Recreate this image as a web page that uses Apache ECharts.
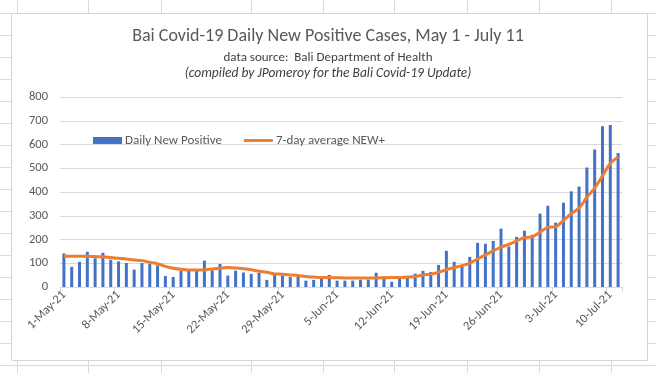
<!DOCTYPE html>
<html>
<head>
<meta charset="utf-8">
<script src="https://cdn.jsdelivr.net/npm/echarts@6/dist/echarts.min.js"></script>
<style>
html,body{margin:0;padding:0;background:#fff;}
#main{width:656px;height:373px;}
</style>
</head>
<body>
<div id="main"></div>
<script>
// ---- data ----
var startDate = '2021-05-01';
var dayCount = 72; // 1-May-21 .. 11-Jul-21
var dailyNewPositive = [
  141, 85, 106, 148, 121, 144, 115,
  108, 101, 73, 101, 97, 91, 46,
  42, 70, 69, 68, 111, 70, 97,
  48, 69, 61, 55, 59, 30, 55,
  48, 42, 45, 27, 30, 42, 51,
  27, 27, 27, 31, 31, 60, 45,
  22, 38, 38, 56, 68, 63, 93,
  152, 106, 90, 127, 186, 182, 194,
  246, 170, 211, 237, 220, 309, 342,
  271, 355, 403, 423, 503, 579, 677,
  682, 564
];
var sevenDayAverage = [
  129, 129, 129, 129, 128, 127, 124,
  121, 118, 114, 111, 104, 98, 87,
  79, 75, 72, 72, 72, 76, 79,
  82, 80, 77, 73, 66, 62, 55,
  54, 51, 48, 44, 42, 40, 40,
  39, 38, 38, 38, 38, 38, 39,
  40, 40, 42, 44, 51, 54, 62,
  73, 82, 90, 101, 118, 135, 152,
  168, 179, 194, 208, 211, 231, 251,
  254, 280, 309, 332, 378, 416, 468,
  520, 548
];
var yTicks = [0, 100, 200, 300, 400, 500, 600, 700, 800];
var titleText = 'Bai Covid-19 Daily New Positive Cases, May 1 - July 11';
var subText1 = 'data source:  Bali Department of Health';
var subText2 = '(compiled by JPomeroy for the Bali Covid-19 Update)';
var seriesNames = ['Daily New Positive', '7-day average NEW+'];

// category labels like "1-May-21"
var monthNames = ['Jan','Feb','Mar','Apr','May','Jun','Jul','Aug','Sep','Oct','Nov','Dec'];
var categories = [];
(function(){
  var d = new Date(startDate + 'T00:00:00Z');
  for (var i = 0; i < dayCount; i++) {
    var c = new Date(d.getTime() + i * 86400000);
    categories.push(c.getUTCDate() + '-' + monthNames[c.getUTCMonth()] + '-' + String(c.getUTCFullYear()).slice(2));
  }
})();

// ---- spreadsheet backdrop ----
var sheetCols = [17, 88, 161, 251, 323, 394, 467, 539, 611];
var sheetRows = [13, 35, 57, 79, 101, 123, 145, 167, 189, 211, 233, 255, 277, 299, 321, 343, 365];
var gfx = [];
sheetCols.forEach(function(x){
  gfx.push({type:'line', z:-20, silent:true, shape:{x1:x+0.5,y1:0,x2:x+0.5,y2:373}, style:{stroke:'#dadada', lineWidth:1}});
});
sheetRows.forEach(function(y){
  gfx.push({type:'line', z:-20, silent:true, shape:{x1:0,y1:y+0.5,x2:656,y2:y+0.5}, style:{stroke:'#dadada', lineWidth:1}});
});
gfx.push({type:'rect', z:-10, silent:true, shape:{x:11.5, y:13.5, width:636, height:347}, style:{fill:'#ffffff', stroke:'#d4d4d4', lineWidth:1}});

var font = 'Calibri, Carlito, Lato, sans-serif';
var grey = '#595959';

var chart = echarts.init(document.getElementById('main'), null, {renderer:'canvas'});
chart.setOption({
  animation: false,
  backgroundColor: '#ffffff',
  graphic: {elements: gfx},
  title: [
    {text: titleText, left: 'center', top: 27, padding: 0,
     textStyle: {fontFamily: font, fontSize: 18, fontWeight: 'normal', color: grey}},
    {text: subText1, left: 'center', top: 51, padding: 0,
     textStyle: {fontFamily: font, fontSize: 13, fontWeight: 'normal', color: '#404040'}},
    {text: subText2, left: 'center', top: 67, padding: 0,
     textStyle: {fontFamily: font, fontSize: 13.5, fontWeight: 'normal', fontStyle: 'italic', color: '#404040'}}
  ],
  legend: {
    left: 93, top: 134, padding: 0,
    itemWidth: 29, itemHeight: 7, itemGap: 22,
    textStyle: {fontFamily: font, fontSize: 13, color: grey, padding: [0,0,0,-2]},
    data: [
      {name: seriesNames[0], icon: 'rect'},
      {name: seriesNames[1], icon: 'path://M0,0 H30 V3 H0 Z'}
    ]
  },
  grid: {left: 60, right: 34, top: 97, bottom: 86, containLabel: false},
  xAxis: {
    type: 'category',
    data: categories,
    boundaryGap: true,
    axisLine: {lineStyle: {color: '#d9d9d9'}},
    axisTick: {show: true, interval: 6, length: 5, lineStyle: {color: '#d9d9d9'}},
    axisLabel: {interval: 6, rotate: 45, margin: 6, fontFamily: font, fontSize: 12.5, color: grey}
  },
  yAxis: {
    type: 'value',
    min: yTicks[0], max: yTicks[yTicks.length-1], interval: 100,
    axisLine: {show: false}, axisTick: {show: false},
    splitLine: {lineStyle: {color: '#d9d9d9'}},
    axisLabel: {margin: 12, fontFamily: font, fontSize: 12.5, color: grey}
  },
  series: [
    {name: seriesNames[0], type: 'bar', data: dailyNewPositive, barWidth: 3,
     itemStyle: {color: '#4472C4'}},
    {name: seriesNames[1], type: 'line', data: sevenDayAverage, smooth: 0.3,
     symbol: 'none', showSymbol: false,
     lineStyle: {color: '#ED7D31', width: 3}, itemStyle: {color: '#ED7D31'}, z: 3}
  ]
});
</script>
</body>
</html>
